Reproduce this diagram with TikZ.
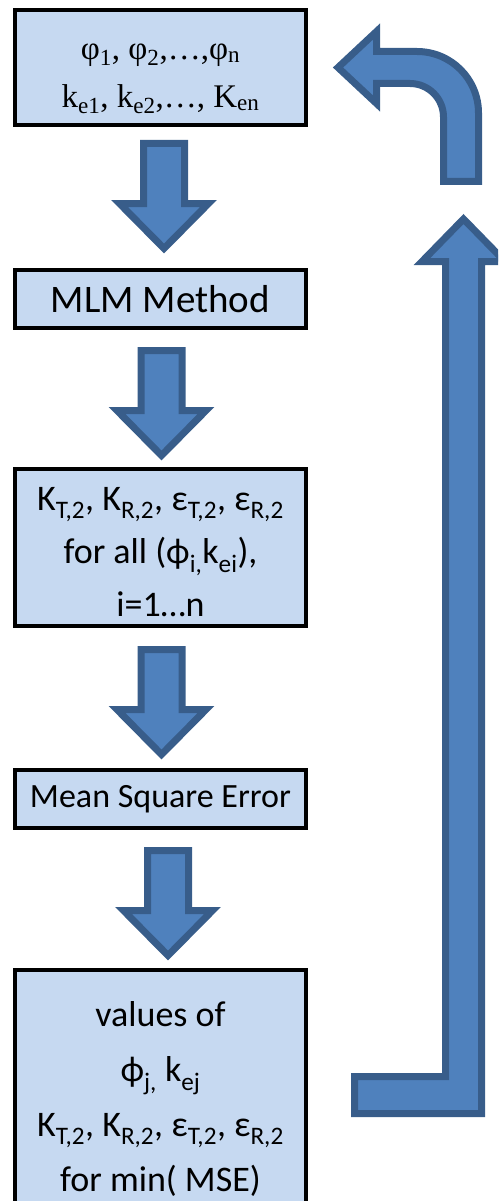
\documentclass[tikz,border=0pt]{standalone}
\usepackage{fontspec}
\setmainfont{Carlito}
\newfontfamily\timesfont{Liberation Serif}
\usetikzlibrary{calc}
\definecolor{boxfill}{HTML}{C6D9F1}
\definecolor{arrowfill}{HTML}{4F81BD}
\definecolor{arrowline}{HTML}{385D8A}

\begin{document}
\begin{tikzpicture}[x=1pt, y=-1pt,
                    box/.style={draw=black, line width=4pt, fill=boxfill, minimum width=291pt, inner sep=0pt, align=center, font=\fontsize{36}{53}\selectfont},
                    blockarrow/.style={draw=arrowline, line width=7pt, fill=arrowfill},
                    downarrow/.pic={\draw[blockarrow] (-20.5,3.5) -- (20.5,3.5) -- (20.5,63.5) -- (44.5,63.5) -- (0,108.5) -- (-44.5,63.5) -- (-20.5,63.5) -- cycle;}]
                    \useasboundingbox (0,0) rectangle (498,1201);
                    \clip (0,0) rectangle (498,1201);
                    \node[box, minimum height=115pt, font=\timesfont\fontsize{33}{48}\selectfont] (b1) at (160.5,67.5)
                        {\rule{0pt}{38pt}φ\textsubscript{1}, φ\textsubscript{2},…,φ\textsubscript{n}\\ k\textsubscript{e1}, k\textsubscript{e2},…, K\textsubscript{en}};
                    \node[box, minimum height=58pt, font=\fontsize{39}{47}\selectfont] (b2) at (160.5,299) {MLM Method};
                    \node[box, minimum height=157pt] (b3) at (160.5,547.5)
                        {\rule{0pt}{33pt}K\textsubscript{T,2}, K\textsubscript{R,2}, ε\textsubscript{T,2}, ε\textsubscript{R,2}\\ for all (ϕ\textsubscript{i,}k\textsubscript{ei}),\\ i=1…n};
                    \node[box, minimum height=58pt, font=\fontsize{34}{41}\selectfont] (b4) at (160.5,799) {Mean Square Error};
                    \node[box, minimum height=258pt, font=\fontsize{36}{55}\selectfont] (b5) at (160.5,1099)
                        {values of\\ ϕ\textsubscript{j,} k\textsubscript{ej}\\ K\textsubscript{T,2}, K\textsubscript{R,2}, ε\textsubscript{T,2}, ε\textsubscript{R,2}\\ for min( MSE)};
                    \pic at ($(b1.south)+(3.5,13)$) {downarrow};
                    \pic at ($(b2.south)+(1,17)$) {downarrow};
                    \pic at ($(b3.south)+(1,18)$) {downarrow};
                    \pic at ($(b4.south)+(7.5,17)$) {downarrow};
                    \draw[blockarrow] (354.5,1113.5) -- (481.5,1113.5) -- (481.5,261.5) -- (505,261.5) -- (463.5,219) -- (422,261.5) -- (445.5,261.5) -- (445.5,1076.5) -- (354.5,1076.5) -- cycle;
                    \draw[blockarrow] (443.5,181.5) -- (478.5,181.5) -- (478.5,113) .. controls (478.5,79) and (451,51.5) .. (417,51.5) -- (376.5,51.5) -- (376.5,31.5) -- (338,67.5) -- (376.5,103.5) -- (376.5,83.5) -- (410,83.5) .. controls (428.5,83.5) and (443.5,98.5) .. (443.5,117) -- cycle;
                \end{tikzpicture}
\end{document}
